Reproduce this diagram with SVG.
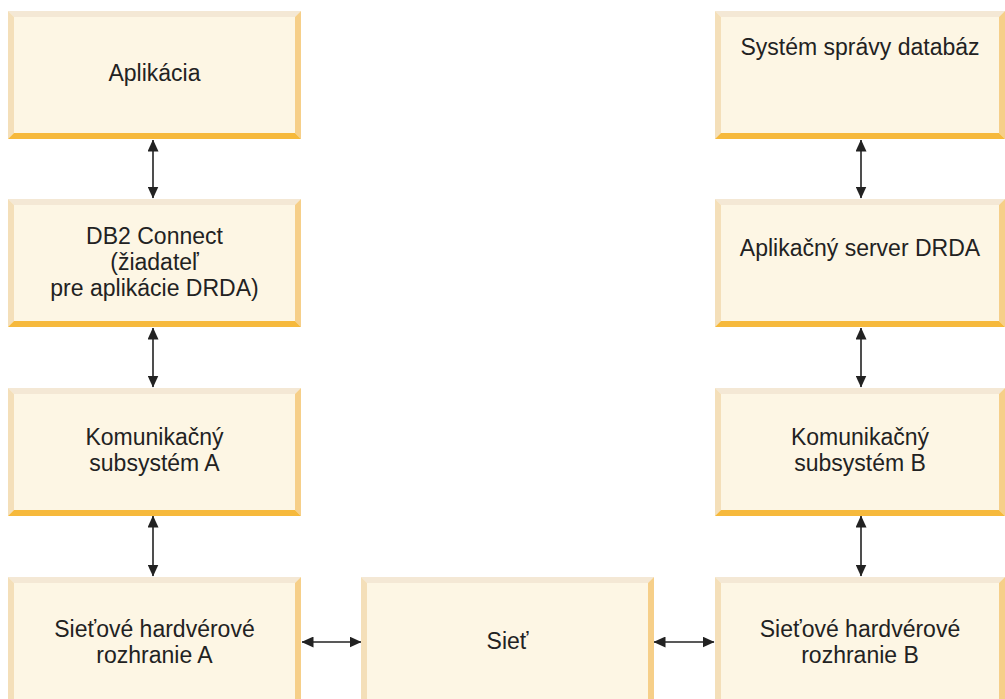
<svg xmlns="http://www.w3.org/2000/svg" width="1005" height="699" viewBox="0 0 1005 699">
<defs>
<style>
.face{fill:#fdf6e4}
.bt{fill:#f4e8d5}
.bl{fill:#f4dfb9}
.br{fill:#f6cf89}
.bb{fill:#f6b93c}
text{font-family:"Liberation Sans",Arial,sans-serif;font-size:23px;fill:#222;text-anchor:middle}
.conn{stroke:#222;stroke-width:1.6;fill:none;marker-start:url(#ah);marker-end:url(#ah)}
</style>
<marker id="ah" markerUnits="userSpaceOnUse" markerWidth="12" markerHeight="11" refX="11.5" refY="5.5" orient="auto-start-reverse" viewBox="0 0 12 11">
<path d="M0,0 L12,5.5 L0,11 Z" fill="#222"/>
</marker>
<g id="box">
<rect class="face" x="0" y="0" width="293" height="128"/>
<polygon class="bt" points="0,0 293,0 287,6 6,6"/>
<polygon class="bl" points="0,0 6,6 6,122 0,128"/>
<polygon class="br" points="293,0 293,128 287,122 287,6"/>
<polygon class="bb" points="0,128 6,122 287,122 293,128"/>
</g>
<g id="boxR">
<rect class="face" x="0" y="0" width="290" height="128"/>
<polygon class="bt" points="0,0 290,0 284,6 6,6"/>
<polygon class="bl" points="0,0 6,6 6,122 0,128"/>
<polygon class="br" points="290,0 290,128 284,122 284,6"/>
<polygon class="bb" points="0,128 6,122 284,122 290,128"/>
</g>
</defs>
<rect width="1005" height="699" fill="#fff"/>

<g id="connectors">
<line class="conn" x1="153" y1="140" x2="153" y2="198"/>
<line class="conn" x1="153" y1="328" x2="153" y2="387"/>
<line class="conn" x1="153" y1="516" x2="153" y2="576"/>
<line class="conn" x1="861" y1="140" x2="861" y2="198"/>
<line class="conn" x1="861" y1="328" x2="861" y2="387"/>
<line class="conn" x1="861" y1="516" x2="861" y2="576"/>
<line class="conn" x1="302" y1="642" x2="361" y2="642"/>
<line class="conn" x1="654" y1="642" x2="714" y2="642"/>
</g>

<g id="n-aplikacia">
<use href="#box" x="8" y="11"/>
<text x="154.5" y="81">Aplikácia</text>
</g>
<g id="n-db2">
<use href="#box" x="8" y="199"/>
<text x="154.5" y="244">DB2 Connect</text>
<text x="154.5" y="270">(žiadateľ</text>
<text x="154.5" y="296">pre aplikácie DRDA)</text>
</g>
<g id="n-komA">
<use href="#box" x="8" y="388"/>
<text x="154.5" y="445">Komunikačný</text>
<text x="154.5" y="471">subsystém A</text>
</g>
<g id="n-sietA">
<use href="#box" x="8" y="577"/>
<text x="154.5" y="637">Sieťové hardvérové</text>
<text x="154.5" y="663">rozhranie A</text>
</g>
<g id="n-siet">
<use href="#box" x="361" y="577"/>
<text x="507.5" y="649">Sieť</text>
</g>
<g id="n-sys">
<use href="#boxR" x="715" y="11"/>
<text x="860" y="55">Systém správy databáz</text>
</g>
<g id="n-srv">
<use href="#boxR" x="715" y="199"/>
<text x="860" y="256">Aplikačný server DRDA</text>
</g>
<g id="n-komB">
<use href="#boxR" x="715" y="388"/>
<text x="860" y="445">Komunikačný</text>
<text x="860" y="471">subsystém B</text>
</g>
<g id="n-sietB">
<use href="#boxR" x="715" y="577"/>
<text x="860" y="637">Sieťové hardvérové</text>
<text x="860" y="663">rozhranie B</text>
</g>
</svg>
